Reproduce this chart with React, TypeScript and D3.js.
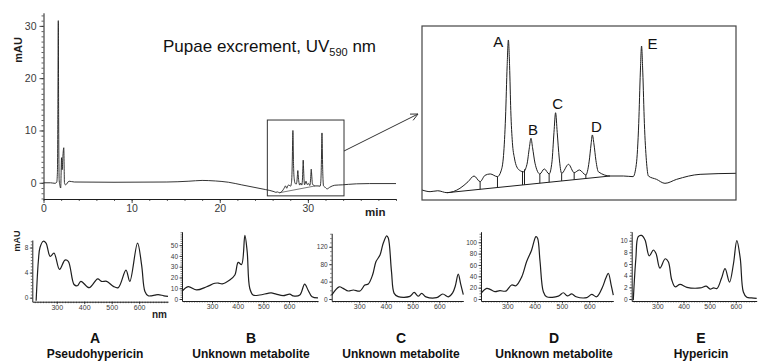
import { useEffect, useRef } from 'react';
import * as d3 from 'd3';

// chromatogram at UV 590 nm, time in min, signal in mAU
const earlyTime = [0, 0.8, 1.3, 1.5, 1.58, 1.63, 1.68, 1.72, 1.78, 1.86, 1.95, 2.05, 2.12, 2.2, 2.3, 2.38, 2.5, 2.9, 3.5, 8, 14, 16.5, 18, 19.5, 21, 22.5, 24, 25.2];
const earlySignal = [0, 0, -0.1, 0.1, 2, 14, 31, 12, 0.5, -0.5, -1.0, 4.8, 2.5, 5.0, 6.7, 0, -0.4, 0.3, 0.15, 0.1, 0.15, 0.3, 0.45, 0.35, 0.1, -0.4, -0.9, -1.3];

// region that is blown up in the inset
const insetTime = [26.16, 26.36, 26.55, 26.78, 27.1, 27.3, 27.45, 27.6, 27.72, 27.85, 28.03, 28.12, 28.18, 28.23, 28.27, 28.3, 28.33, 28.36, 28.4, 28.45, 28.51, 28.6, 28.67, 28.76, 28.82, 28.86, 28.9, 28.96, 29.08, 29.19, 29.31, 29.38, 29.43, 29.47, 29.51, 29.56, 29.62, 29.79, 29.93, 30.06, 30.22, 30.3, 30.35, 30.38, 30.42, 30.47, 30.53, 30.82, 31.15, 31.39, 31.47, 31.53, 31.57, 31.6, 31.63, 31.67, 31.72, 31.77, 31.97, 32.18, 32.47, 33.05, 33.94];
const insetSignal = [-1.69, -1.82, -1.75, -1.9, -1.56, -1.05, -0.6, -1.04, -0.55, -0.44, -0.65, -0.2, 1.0, 4.0, 8.0, 10.0, 8.0, 4.5, 2.0, 0.8, 0.1, -0.2, -0.27, 0.3, 1.6, 2.34, 1.6, 0.4, -0.44, -0.05, -0.44, 0.5, 2.8, 4.33, 2.8, 0.8, -0.39, 0.31, -0.34, -0.13, -0.52, 0.5, 1.9, 2.6, 1.9, 0.6, -0.27, -0.6, -0.6, -0.65, 0.3, 3.5, 7.5, 9.53, 7.5, 3.5, 0.6, -0.6, -0.86, -1.17, -0.86, -0.47, -0.39];

const lateTime = [34.6, 35.5, 37, 40];
const lateSignal = [-0.3, -0.2, -0.15, -0.15];

// integration baseline and drop lines
const baselineTime = [26.78, 30.82];
const baselineSignal = [-1.9, -0.6];
const dropTimes = [27.6, 28.03, 28.65, 28.7, 29.08, 29.31, 29.62, 29.93, 30.22];

const peakNames = ['A', 'B', 'C', 'D', 'E'];
const peakTimes = [28.3, 28.86, 29.47, 30.38, 31.6];
const peakSignal = [10, 2.34, 4.33, 2.6, 9.53];

const timeTicks = [0, 10, 20, 30];
const mauTicks = [0, 10, 20, 30];

// UV/Vis spectra of the peaks, wavelength in nm, absorbance in mAU
const waveA = [225, 233, 239, 251, 261, 276, 290, 310, 330, 342, 363, 375, 388, 418, 449, 463, 482, 506, 524, 552, 566, 594, 609, 621, 633, 645, 657, 669, 690, 705];
const absA = [-0.5, 5.8, 8.0, 9.0, 8.7, 6.6, 7.1, 4.5, 6.0, 5.8, 2.1, 1.9, 2.6, 1.6, 3.0, 2.6, 2.6, 1.8, 1.6, 4.4, 2.6, 8.7, 5.2, 1.0, 0.3, 0.3, 0.4, 0.5, 0.3, 0.2];
const waveB = [183, 207, 240, 279, 311, 325, 340, 369, 389, 402, 415, 428, 437, 447, 460, 486, 518, 531, 550, 577, 603, 616, 642, 661, 674, 690, 713];
const absB = [7, 11.5, 8.4, 11.4, 14.6, 14.8, 14, 17.6, 22.3, 34, 32, 59, 44, 10, 3.7, 3.7, 5.3, 5.6, 4.5, 3.1, 4.5, 2.9, 3.7, 13.9, 8.4, 2, 1];
const waveC = [197, 225, 240, 259, 278, 303, 321, 334, 350, 363, 378, 390, 403, 409, 421, 431, 446, 490, 506, 521, 534, 550, 590, 613, 634, 650, 660, 671, 680, 690];
const absC = [9, 28, 24.5, 18.4, 20.7, 18.4, 32, 34.5, 55, 86, 101, 128, 145, 140, 63, 13, 5.4, 6, 15, 6.5, 13, 5, 3, 11.5, 5, 14, 30, 57, 35, 10];
const waveD = [204, 225, 237, 255, 273, 295, 316, 332, 353, 371, 389, 405, 411, 420, 432, 444, 487, 505, 520, 536, 552, 591, 609, 627, 649, 660, 670, 680, 688];
const absD = [10, 18.8, 17, 13, 14.7, 14, 24.7, 23.5, 39, 66, 86, 110, 107, 66, 13, 4, 5, 11, 5.5, 9, 4, 2.5, 8, 4, 21.7, 36, 45, 25, 7];
const waveE = [208, 218, 227, 240, 253, 269, 285, 295, 310, 330, 342, 355, 368, 387, 413, 464, 487, 502, 515, 528, 545, 559, 576, 591, 604, 617, 629, 642, 660, 680];
const absE = [-0.2, 7, 10.7, 10.9, 10.1, 7.4, 8.4, 7.8, 5.3, 6.9, 6.4, 3.3, 2.1, 2.5, 2.0, 1.9, 2.2, 1.7, 1.9, 1.8, 3.5, 5.2, 2.9, 6.0, 10.0, 7, 1.2, 0.3, 0.2, 0.1];

const spectrumLetters = ['A', 'B', 'C', 'D', 'E'];
const spectrumNames = ['Pseudohypericin', 'Unknown metabolite', 'Unknown metabolite', 'Unknown metabolite', 'Hypericin'];
const spectrumYTicks = [[0, 4, 8], [0, 10, 20, 30, 40, 50], [0, 40, 80, 120], [0, 20, 40, 60, 80, 100], [0, 2, 4, 6, 8, 10]];
const nmTicks = [300, 400, 500, 600];

const FONT = '"Liberation Sans", Arial, Helvetica, sans-serif';
const INK = '#1e1e1e';

// linear lookup of the trace at a given time (for the drop lines)
function valueAt(ts: number[], vs: number[], t: number) {
  const i = d3.bisectLeft(ts, t);
  if (i <= 0) return vs[0];
  if (i >= ts.length) return vs[vs.length - 1];
  const f = (t - ts[i - 1]) / (ts[i] - ts[i - 1]);
  return vs[i - 1] + f * (vs[i] - vs[i - 1]);
}

export default function App() {
  const ref = useRef<SVGSVGElement>(null);

  useEffect(() => {
    const svg = d3.select(ref.current);
    svg.selectAll('*').remove();

    const styleAxis = (g: any, size: number) => {
      g.attr('font-family', FONT).attr('font-size', size);
      g.select('.domain').attr('stroke', INK).attr('stroke-width', 1);
      g.selectAll('.tick line').attr('stroke', INK).attr('stroke-width', 0.8);
      g.selectAll('.tick text').attr('fill', '#3a3a3a');
    };

    // ---------- main chromatogram
    const x = d3.scaleLinear().domain([0, 40]).range([43.5, 396]);
    const y = d3.scaleLinear().domain([-3.1, 32.5]).range([199, 12.8]);

    const mainT = [...earlyTime, ...insetTime, ...lateTime];
    const mainV = [...earlySignal, ...insetSignal, ...lateSignal];
    const idx = d3.range(mainT.length);

    const yMinor = svg.append('g').attr('transform', `translate(${x(0)},0)`)
      .call(d3.axisLeft(y).tickValues(d3.range(-3, 33)).tickSize(2).tickFormat(() => ''));
    yMinor.select('.domain').remove();
    yMinor.selectAll('.tick line').attr('stroke', INK).attr('stroke-width', 0.7);
    const yMajor = svg.append('g').attr('transform', `translate(${x(0)},0)`)
      .call(d3.axisLeft(y).tickValues(mauTicks).tickSize(4).tickSizeOuter(0).tickPadding(3));
    styleAxis(yMajor, 10.5);

    const xMinor = svg.append('g').attr('transform', `translate(0,${y(-3.1)})`)
      .call(d3.axisBottom(x).tickValues(d3.range(0, 41, 2)).tickSize(2).tickFormat(() => ''));
    xMinor.select('.domain').remove();
    xMinor.selectAll('.tick line').attr('stroke', INK).attr('stroke-width', 0.7);
    const xMajor = svg.append('g').attr('transform', `translate(0,${y(-3.1)})`)
      .call(d3.axisBottom(x).tickValues(timeTicks).tickSize(4).tickSizeOuter(0).tickPadding(1.5));
    styleAxis(xMajor, 10.5);

    svg.append('text').attr('transform', `translate(21.5,50) rotate(-90)`)
      .attr('text-anchor', 'middle').attr('font-family', FONT).attr('font-weight', 'bold')
      .attr('font-size', 11).attr('fill', INK).text('mAU');
    svg.append('text').attr('x', 365).attr('y', 215.5)
      .attr('font-family', FONT).attr('font-weight', 'bold').attr('font-size', 11.5).attr('fill', INK).text('min');

    const mainLine = d3.line<number>().x(i => x(mainT[i])).y(i => y(mainV[i])).curve(d3.curveMonotoneX);
    svg.append('path').attr('d', mainLine(idx)).attr('fill', 'none').attr('stroke', INK).attr('stroke-width', 0.9);

    // small integration marks in the main trace
    svg.append('line')
      .attr('x1', x(baselineTime[0])).attr('y1', y(baselineSignal[0]))
      .attr('x2', x(baselineTime[1])).attr('y2', y(baselineSignal[1]))
      .attr('stroke', INK).attr('stroke-width', 0.6);

    // title
    const title = svg.append('text').attr('x', 163).attr('y', 52)
      .attr('font-family', FONT).attr('font-size', 17).attr('fill', '#111');
    title.append('tspan').text('Pupae excrement, UV');
    title.append('tspan').attr('font-size', 11).attr('dy', 4).text('590');
    title.append('tspan').attr('dy', -4).text(' nm');

    // zoom box and arrow
    const boxT = [25.4, 34.1];
    const boxV = [-2.5, 12];
    svg.append('rect')
      .attr('x', x(boxT[0])).attr('y', y(boxV[1]))
      .attr('width', x(boxT[1]) - x(boxT[0])).attr('height', y(boxV[0]) - y(boxV[1]))
      .attr('fill', 'none').attr('stroke', '#333').attr('stroke-width', 1);
    const ax0 = x(boxT[1]), ay0 = 151, ax1 = 418, ay1 = 114;
    svg.append('line').attr('x1', ax0).attr('y1', ay0).attr('x2', ax1).attr('y2', ay1)
      .attr('stroke', '#333').attr('stroke-width', 1);
    const ang = Math.atan2(ay1 - ay0, ax1 - ax0);
    [0.45, -0.45].forEach(d => {
      svg.append('line').attr('x1', ax1).attr('y1', ay1)
        .attr('x2', ax1 - 8 * Math.cos(ang + d)).attr('y2', ay1 - 8 * Math.sin(ang + d))
        .attr('stroke', '#333').attr('stroke-width', 1);
    });

    // ---------- inset
    const ix = d3.scaleLinear().domain([26.16, 33.94]).range([422, 736]);
    const iy = d3.scaleLinear().domain([-2.47, 11.09]).range([200, 26]);
    const iidx = d3.range(insetTime.length);

    svg.append('clipPath').attr('id', 'inset-clip').append('rect')
      .attr('x', 422).attr('y', 26).attr('width', 314).attr('height', 174);
    const inset = svg.append('g').attr('clip-path', 'url(#inset-clip)');

    const insetLine = d3.line<number>().x(i => ix(insetTime[i])).y(i => iy(insetSignal[i])).curve(d3.curveMonotoneX);
    inset.append('path').attr('d', insetLine(iidx)).attr('fill', 'none').attr('stroke', INK).attr('stroke-width', 1);
    inset.append('line')
      .attr('x1', ix(baselineTime[0])).attr('y1', iy(baselineSignal[0]))
      .attr('x2', ix(baselineTime[1])).attr('y2', iy(baselineSignal[1]))
      .attr('stroke', INK).attr('stroke-width', 1);
    dropTimes.forEach(t => {
      inset.append('line')
        .attr('x1', ix(t)).attr('x2', ix(t))
        .attr('y1', iy(valueAt(insetTime, insetSignal, t)))
        .attr('y2', iy(valueAt(baselineTime, baselineSignal, t)))
        .attr('stroke', INK).attr('stroke-width', 1);
    });

    svg.append('rect').attr('x', 422).attr('y', 26).attr('width', 314).attr('height', 174)
      .attr('fill', 'none').attr('stroke', '#444').attr('stroke-width', 1.2);

    const labelOffset = [[-10, 7], [2, -3], [2, -4], [4, -3], [11, 3]];
    peakNames.forEach((n, i) => {
      svg.append('text')
        .attr('x', ix(peakTimes[i]) + labelOffset[i][0])
        .attr('y', iy(peakSignal[i]) + labelOffset[i][1])
        .attr('text-anchor', 'middle').attr('font-family', FONT).attr('font-size', 15)
        .attr('fill', '#111').text(n);
    });

    // ---------- spectra
    const spectra = [
      { wave: waveA, abs: absA },
      { wave: waveB, abs: absB },
      { wave: waveC, abs: absC },
      { wave: waveD, abs: absD },
      { wave: waveE, abs: absE },
    ];
    const panels = [
      { x0: 32.3, x1: 168, top: 240, bottom: 301.7, wl: [211, 705], ab: [-0.64, 9.2], minor: 0.5, cx: 95 },
      { x0: 182, x1: 318, top: 231.7, bottom: 301, wl: [183, 713], ab: [-1.86, 62.5], minor: 2, cx: 251 },
      { x0: 331.7, x1: 463.3, top: 233.3, bottom: 301, wl: [197, 690], ab: [-4.6, 151], minor: 10, cx: 401 },
      { x0: 481, x1: 613.3, top: 231.7, bottom: 301, wl: [204, 688], ab: [-3.5, 118.6], minor: 5, cx: 554 },
      { x0: 631.7, x1: 756.7, top: 231.7, bottom: 301, wl: [202, 680], ab: [-0.34, 11.54], minor: 0.5, cx: 701 },
    ];

    panels.forEach((p, i) => {
      const sx = d3.scaleLinear().domain(p.wl).range([p.x0, p.x1]);
      const sy = d3.scaleLinear().domain(p.ab).range([p.bottom, p.top]);
      const g = svg.append('g');

      const minorY = d3.range(0, p.ab[1], p.minor);
      const gym = g.append('g').attr('transform', `translate(${p.x0},0)`)
        .call(d3.axisLeft(sy).tickValues(minorY).tickSize(1.5).tickFormat(() => ''));
      gym.select('.domain').remove();
      gym.selectAll('.tick line').attr('stroke', INK).attr('stroke-width', 0.6);
      const gy = g.append('g').attr('transform', `translate(${p.x0},0)`)
        .call(d3.axisLeft(sy).tickValues(spectrumYTicks[i]).tickSize(2.5).tickSizeOuter(0).tickPadding(1.5));
      styleAxis(gy, 6.5);

      const minorX = d3.range(Math.ceil(p.wl[0] / 10) * 10, p.wl[1], 10);
      const gxm = g.append('g').attr('transform', `translate(0,${p.bottom})`)
        .call(d3.axisBottom(sx).tickValues(minorX).tickSize(1.5).tickFormat(() => ''));
      gxm.select('.domain').remove();
      gxm.selectAll('.tick line').attr('stroke', INK).attr('stroke-width', 0.6);
      const gx = g.append('g').attr('transform', `translate(0,${p.bottom})`)
        .call(d3.axisBottom(sx).tickValues(nmTicks).tickSize(2.5).tickSizeOuter(0).tickPadding(1));
      styleAxis(gx, 7);

      const s = spectra[i];
      const sl = d3.line<number>().x(k => sx(s.wave[k])).y(k => sy(s.abs[k])).curve(d3.curveCatmullRom.alpha(0.5));
      g.append('path').attr('d', sl(d3.range(s.wave.length))).attr('fill', 'none')
        .attr('stroke', INK).attr('stroke-width', 1.2);

      g.append('text').attr('x', p.cx).attr('y', 343).attr('text-anchor', 'middle')
        .attr('font-family', FONT).attr('font-weight', 'bold').attr('font-size', 14).attr('fill', '#111')
        .text(spectrumLetters[i]);
      g.append('text').attr('x', p.cx).attr('y', 357.5).attr('text-anchor', 'middle')
        .attr('font-family', FONT).attr('font-weight', 'bold').attr('font-size', 12).attr('fill', '#111')
        .text(spectrumNames[i]);
    });

    svg.append('text').attr('transform', `translate(19.5,241) rotate(-90)`)
      .attr('text-anchor', 'middle').attr('font-family', FONT).attr('font-weight', 'bold')
      .attr('font-size', 9).attr('fill', INK).text('mAU');
    svg.append('text').attr('x', 152).attr('y', 318)
      .attr('font-family', FONT).attr('font-weight', 'bold').attr('font-size', 10).attr('fill', INK).text('nm');
  }, []);

  return (
    <svg
      ref={ref}
      width={758}
      height={362}
      style={{ position: 'absolute', left: 0, top: 0, background: '#fff' }}
    />
  );
}
